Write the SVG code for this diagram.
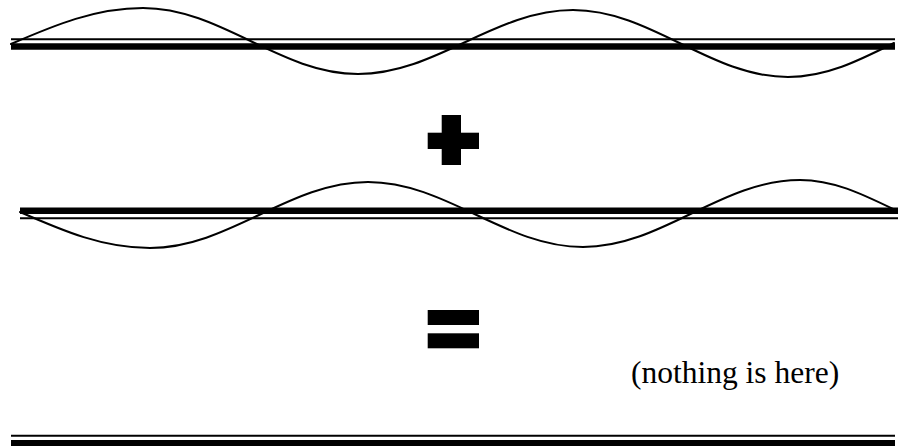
<svg xmlns="http://www.w3.org/2000/svg" width="900" height="446" viewBox="0 0 900 446">
<style>
.thin{stroke:#000;stroke-width:2;fill:none}
.thick{stroke:#000;stroke-width:6.5;fill:none}
.wave{stroke:#000;stroke-width:2;fill:none;stroke-linecap:round}
.sym{fill:#000}
.label{font-family:"Liberation Serif","Times New Roman",serif;font-size:31.5px;fill:#000}
</style>
<rect width="900" height="446" fill="#fff"/>
<g id="wave1">
<line class="thin" x1="11" y1="39.3" x2="895" y2="39.3"/>
<line class="thick" x1="11" y1="46.6" x2="895" y2="46.6"/>
<path class="wave" d="M11,44 C55,25 95.5,8 143,8 C221,8 280,74 358,74 C436,74 495,10 573,10 C651,10 710,77 788,77 C826,77 858,61 894,43"/>
</g>
<g id="plus">
<rect class="sym" x="441.7" y="115" width="19.3" height="50"/>
<rect class="sym" x="427.7" y="132.7" width="51.3" height="16.3"/>
</g>
<g id="wave2">
<line class="thick" x1="20" y1="210.7" x2="898" y2="210.7"/>
<line class="thin" x1="20" y1="218.3" x2="898" y2="218.3"/>
<path class="wave" d="M20,212 C63.4,231 103,248 150,248 C229,248 289,182 368,182 C446,182 505,247 583,247 C662,247 721,180 800,180 C833.5,180 862,194 893,209"/>
</g>
<g id="equals">
<rect class="sym" x="427.7" y="310" width="51.3" height="15"/>
<rect class="sym" x="427.7" y="333.3" width="51.3" height="15"/>
</g>
<text id="note" class="label" x="631" y="383">(nothing is here)</text>
<g id="result">
<line class="thin" x1="11" y1="435.7" x2="895" y2="435.7"/>
<rect class="sym" x="11" y="440" width="884" height="7"/>
</g>
</svg>
